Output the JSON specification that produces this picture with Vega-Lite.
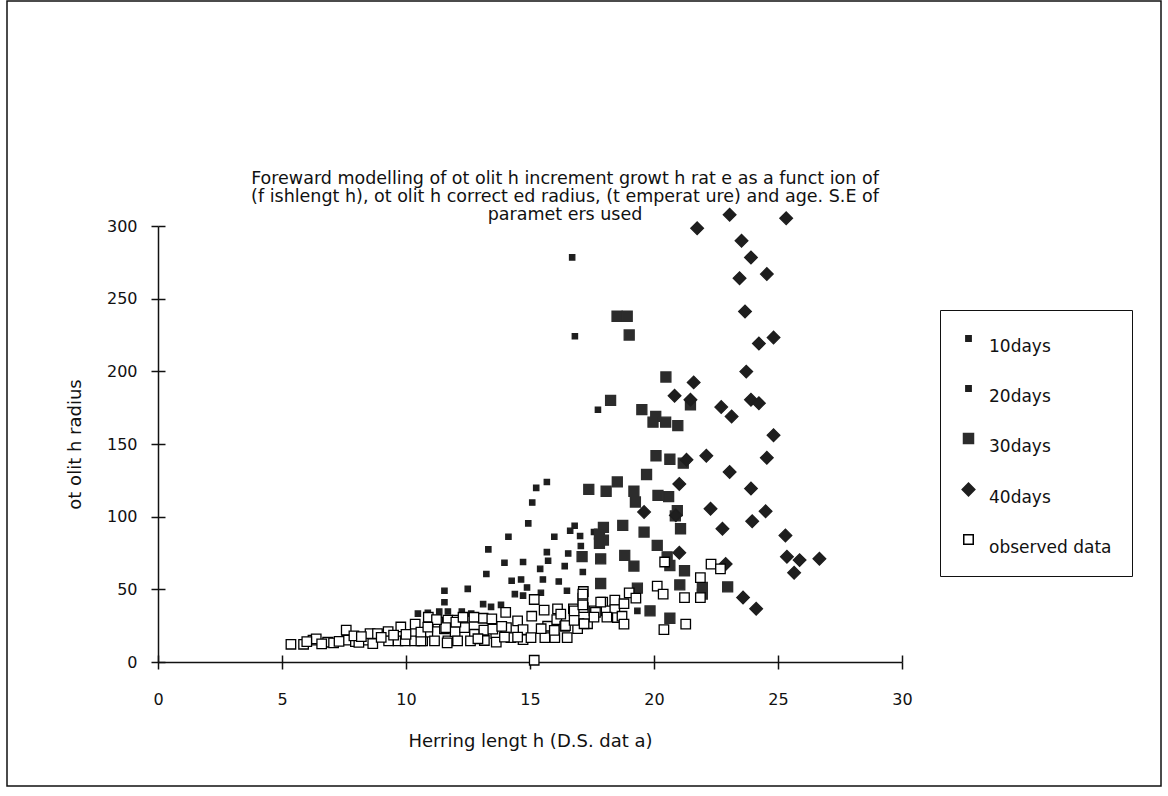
{
  "$schema": "https://vega.github.io/schema/vega-lite/v6.json",
  "autosize": {"type": "none"},
  "width": 1154,
  "height": 785,
  "padding": {"left": 7, "top": 1, "right": 7, "bottom": 10},
  "background": "white",
  "config": {
    "view": {"stroke": "#111", "strokeWidth": 1.5},
    "font": "DejaVu Sans",
    "axis": {"grid": false, "labelFlush": false, "labelOverlap": false, "domainColor": "#111", "tickColor": "#111", "domainWidth": 1.5, "tickWidth": 1.5, "labelColor": "#111", "titleColor": "#111", "labelFont": "DejaVu Sans", "titleFont": "DejaVu Sans", "labelFontSize": 16, "titleFontSize": 18, "titleFontWeight": "normal"},
    "legend": {"labelFont": "DejaVu Sans", "labelFontSize": 17, "labelColor": "#111", "strokeColor": "#111"}
  },
  "title": {
    "text": ["Foreward modelling of ot olit h increment growt h rat e as a funct ion of", "(f ishlengt h), ot olit h correct ed radius, (t emperat ure) and age. S.E of", "paramet ers used"],
    "anchor": "start",
    "frame": "group",
    "align": "center",
    "dx": 558,
    "offset": -222,
    "fontSize": 17.5,
    "lineHeight": 18,
    "fontWeight": "normal",
    "color": "#111",
    "font": "DejaVu Sans"
  },
  "data": {"values": [
    {"s":"10days","x":13.32,"y":77.5},{"s":"10days","x":13.97,"y":68.3},{"s":"10days","x":13.24,"y":60.5},{"s":"10days","x":12.49,"y":50.3},{"s":"10days","x":11.55,"y":49},{"s":"10days","x":11.55,"y":41.1},{"s":"10days","x":13.11,"y":39.8},{"s":"10days","x":13.43,"y":37.9},{"s":"10days","x":13.83,"y":39.3},{"s":"10days","x":11.69,"y":34.7},{"s":"10days","x":12.25,"y":34.7},{"s":"10days","x":12.63,"y":33.3},{"s":"10days","x":10.88,"y":33.8},{"s":"10days","x":10.48,"y":33.3},{"s":"10days","x":11.34,"y":34.7},{"s":"10days","x":14.13,"y":86.2},{"s":"10days","x":14.26,"y":55.9},{"s":"10days","x":14.39,"y":46.7},{"s":"10days","x":14.72,"y":45.7},{"s":"10days","x":14.64,"y":56.8},{"s":"10days","x":14.88,"y":51.3},{"s":"10days","x":15.44,"y":47.6},{"s":"10days","x":16.49,"y":49},{"s":"10days","x":19.33,"y":35.2},
    {"s":"20days","x":16.7,"y":278.4},{"s":"20days","x":16.81,"y":224.1},{"s":"20days","x":17.74,"y":173.6},{"s":"20days","x":15.68,"y":123.9},{"s":"20days","x":15.25,"y":119.8},{"s":"20days","x":15.09,"y":109.7},{"s":"20days","x":14.93,"y":95.4},{"s":"20days","x":15.98,"y":86.2},{"s":"20days","x":16.62,"y":90.3},{"s":"20days","x":17.02,"y":86.7},{"s":"20days","x":16.8,"y":93.8},{"s":"20days","x":17.58,"y":89.4},{"s":"20days","x":15.68,"y":75.6},{"s":"20days","x":16.54,"y":74.7},{"s":"20days","x":15.73,"y":69.7},{"s":"20days","x":17.05,"y":79.8},{"s":"20days","x":14.72,"y":68.8},{"s":"20days","x":15.41,"y":64.1},{"s":"20days","x":16.4,"y":66},{"s":"20days","x":17.13,"y":61.9},{"s":"20days","x":15.52,"y":56.8},{"s":"20days","x":16.16,"y":55.4},
    {"s":"30days","x":18.51,"y":237.9},{"s":"30days","x":18.92,"y":237.9},{"s":"30days","x":19.0,"y":225},{"s":"30days","x":20.48,"y":196.1},{"s":"30days","x":18.25,"y":180},{"s":"30days","x":19.51,"y":173.6},{"s":"30days","x":20.07,"y":169},{"s":"30days","x":19.96,"y":165},{"s":"30days","x":20.47,"y":165},{"s":"30days","x":20.96,"y":162.6},{"s":"30days","x":21.47,"y":177},{"s":"30days","x":20.08,"y":141.9},{"s":"30days","x":20.64,"y":139.5},{"s":"30days","x":21.18,"y":136.8},{"s":"30days","x":19.7,"y":129},{"s":"30days","x":18.52,"y":123.9},{"s":"30days","x":18.07,"y":117.5},{"s":"30days","x":19.19,"y":117.5},{"s":"30days","x":19.25,"y":110.1},{"s":"30days","x":20.16,"y":114.7},{"s":"30days","x":20.59,"y":113.8},{"s":"30days","x":20.94,"y":104.1},{"s":"30days","x":20.86,"y":100.5},{"s":"30days","x":17.96,"y":92.6},{"s":"30days","x":18.74,"y":94},{"s":"30days","x":19.6,"y":89.4},{"s":"30days","x":21.07,"y":91.7},{"s":"30days","x":17.96,"y":83.9},{"s":"30days","x":20.13,"y":80.2},{"s":"30days","x":17.85,"y":71},{"s":"30days","x":18.82,"y":73.3},{"s":"30days","x":19.19,"y":66},{"s":"30days","x":20.53,"y":72.4},{"s":"30days","x":20.64,"y":66.4},{"s":"30days","x":21.23,"y":62.8},{"s":"30days","x":17.85,"y":54},{"s":"30days","x":19.33,"y":50.8},{"s":"30days","x":21.04,"y":53.1},{"s":"30days","x":21.95,"y":51.3},{"s":"30days","x":22.97,"y":51.7},{"s":"30days","x":19.84,"y":35.2},{"s":"30days","x":20.64,"y":30.1},{"s":"30days","x":21.95,"y":46.7},{"s":"30days","x":17.37,"y":118.8},{"s":"30days","x":17.8,"y":88},{"s":"30days","x":17.8,"y":81.7},{"s":"30days","x":17.1,"y":72.5},
    {"s":"40days","x":23.05,"y":307.8},{"s":"40days","x":25.33,"y":305.3},{"s":"40days","x":21.74,"y":298.4},{"s":"40days","x":23.53,"y":289.9},{"s":"40days","x":23.91,"y":278.4},{"s":"40days","x":23.45,"y":264.1},{"s":"40days","x":24.55,"y":266.9},{"s":"40days","x":23.67,"y":241.2},{"s":"40days","x":24.23,"y":219.1},{"s":"40days","x":24.82,"y":223.2},{"s":"40days","x":23.72,"y":199.8},{"s":"40days","x":23.91,"y":180.5},{"s":"40days","x":24.23,"y":178.1},{"s":"40days","x":22.71,"y":175.4},{"s":"40days","x":23.13,"y":169},{"s":"40days","x":24.82,"y":156.1},{"s":"40days","x":22.11,"y":141.9},{"s":"40days","x":24.55,"y":140.5},{"s":"40days","x":23.05,"y":130.8},{"s":"40days","x":23.91,"y":119.3},{"s":"40days","x":22.28,"y":105.5},{"s":"40days","x":22.76,"y":91.7},{"s":"40days","x":23.96,"y":96.8},{"s":"40days","x":24.5,"y":103.7},{"s":"40days","x":25.3,"y":87.1},{"s":"40days","x":25.36,"y":72.4},{"s":"40days","x":25.87,"y":70.1},{"s":"40days","x":26.67,"y":71.0},{"s":"40days","x":25.65,"y":61.4},{"s":"40days","x":22.89,"y":67.4},{"s":"40days","x":23.59,"y":44.3},{"s":"40days","x":24.12,"y":36.6},{"s":"40days","x":21.6,"y":192.4},{"s":"40days","x":20.83,"y":183.2},{"s":"40days","x":21.47,"y":180.5},{"s":"40days","x":21.31,"y":139.1},{"s":"40days","x":21.02,"y":122.5},{"s":"40days","x":19.6,"y":103.2},{"s":"40days","x":20.88,"y":100.9},{"s":"40days","x":21.02,"y":75.2},
    {"s":"observed data","x":5.36,"y":12.2},{"s":"observed data","x":5.87,"y":12.2},{"s":"observed data","x":6.25,"y":15},{"s":"observed data","x":6.38,"y":15.9},{"s":"observed data","x":6.84,"y":13.6},{"s":"observed data","x":7.08,"y":13.1},{"s":"observed data","x":7.59,"y":21.9},{"s":"observed data","x":7.61,"y":15},{"s":"observed data","x":7.96,"y":14},{"s":"observed data","x":8.36,"y":15},{"s":"observed data","x":8.55,"y":19.5},{"s":"observed data","x":8.66,"y":12.6},{"s":"observed data","x":8.85,"y":19.5},{"s":"observed data","x":9.28,"y":20.9},{"s":"observed data","x":9.3,"y":14.5},{"s":"observed data","x":9.68,"y":14.5},{"s":"observed data","x":9.79,"y":24.1},{"s":"observed data","x":9.97,"y":14.5},{"s":"observed data","x":10.35,"y":14.5},{"s":"observed data","x":10.37,"y":26},{"s":"observed data","x":10.67,"y":14.5},{"s":"observed data","x":10.88,"y":20.5},{"s":"observed data","x":11.15,"y":14.5},{"s":"observed data","x":11.28,"y":27.4},{"s":"observed data","x":11.55,"y":22.8},{"s":"observed data","x":11.69,"y":28.8},{"s":"observed data","x":11.69,"y":14.5},{"s":"observed data","x":11.98,"y":20.9},{"s":"observed data","x":12.06,"y":28.8},{"s":"observed data","x":12.08,"y":14.5},{"s":"observed data","x":12.36,"y":23.7},{"s":"observed data","x":10.6,"y":14.5},{"s":"observed data","x":11.66,"y":13.1},{"s":"observed data","x":11.6,"y":23.7},{"s":"observed data","x":12.01,"y":27.4},{"s":"observed data","x":12.76,"y":19.1},{"s":"observed data","x":13.11,"y":30.1},{"s":"observed data","x":13.14,"y":21.9},{"s":"observed data","x":13.46,"y":29.7},{"s":"observed data","x":13.62,"y":19.5},{"s":"observed data","x":14.02,"y":34.2},{"s":"observed data","x":14.05,"y":23.7},{"s":"observed data","x":14.23,"y":16.8},{"s":"observed data","x":14.5,"y":28.3},{"s":"observed data","x":14.72,"y":22.3},{"s":"observed data","x":14.72,"y":15.4},{"s":"observed data","x":15.07,"y":31.5},{"s":"observed data","x":15.17,"y":43},{"s":"observed data","x":15.57,"y":35.7},{"s":"observed data","x":15.71,"y":24.6},{"s":"observed data","x":16.11,"y":36.6},{"s":"observed data","x":16.08,"y":29.2},{"s":"observed data","x":16.4,"y":24.6},{"s":"observed data","x":16.75,"y":36.6},{"s":"observed data","x":16.97,"y":26.4},{"s":"observed data","x":17.15,"y":48.5},{"s":"observed data","x":17.13,"y":43.9},{"s":"observed data","x":17.15,"y":37.4},{"s":"observed data","x":17.58,"y":35.2},{"s":"observed data","x":17.93,"y":41.2},{"s":"observed data","x":18.07,"y":35.2},{"s":"observed data","x":18.42,"y":42.6},{"s":"observed data","x":18.42,"y":36.1},{"s":"observed data","x":18.52,"y":30.6},{"s":"observed data","x":15.17,"y":1.2},{"s":"observed data","x":16.24,"y":32.9},{"s":"observed data","x":16.78,"y":35.2},{"s":"observed data","x":17.13,"y":46.7},{"s":"observed data","x":17.13,"y":39.3},{"s":"observed data","x":17.85,"y":41.2},{"s":"observed data","x":17.64,"y":34.2},{"s":"observed data","x":18.71,"y":31.5},{"s":"observed data","x":18.79,"y":26},{"s":"observed data","x":19.0,"y":47.6},{"s":"observed data","x":19.27,"y":43.9},{"s":"observed data","x":20.13,"y":52.2},{"s":"observed data","x":20.37,"y":46.7},{"s":"observed data","x":20.43,"y":68.8},{"s":"observed data","x":21.23,"y":44.3},{"s":"observed data","x":20.4,"y":22.3},{"s":"observed data","x":21.28,"y":26},{"s":"observed data","x":21.87,"y":58.1},{"s":"observed data","x":21.87,"y":44.3},{"s":"observed data","x":22.3,"y":67.4},{"s":"observed data","x":22.68,"y":64.1},{"s":"observed data","x":16.43,"y":25},{"s":"observed data","x":6.0,"y":14},{"s":"observed data","x":6.6,"y":12.5},{"s":"observed data","x":7.3,"y":14.2},{"s":"observed data","x":8.1,"y":13.5},{"s":"observed data","x":7.9,"y":18},{"s":"observed data","x":8.2,"y":17.5},{"s":"observed data","x":9.0,"y":17},{"s":"observed data","x":9.5,"y":18.5},{"s":"observed data","x":10.0,"y":19},{"s":"observed data","x":15.04,"y":16.8},{"s":"observed data","x":15.6,"y":16.8},{"s":"observed data","x":16.0,"y":16.8},{"s":"observed data","x":16.5,"y":16.8},{"s":"observed data","x":10.9,"y":30.8},{"s":"observed data","x":11.23,"y":29.1},{"s":"observed data","x":13.5,"y":22.6},{"s":"observed data","x":13.86,"y":24.5},{"s":"observed data","x":12.74,"y":30.8},{"s":"observed data","x":12.3,"y":30.8},{"s":"observed data","x":10.6,"y":20.5},{"s":"observed data","x":10.88,"y":24},{"s":"observed data","x":13.16,"y":14.8},{"s":"observed data","x":13.64,"y":13.7},{"s":"observed data","x":13.97,"y":17.1},{"s":"observed data","x":14.5,"y":17.1},{"s":"observed data","x":15.45,"y":22.9},{"s":"observed data","x":15.98,"y":21.7},{"s":"observed data","x":16.92,"y":22.9},{"s":"observed data","x":17.32,"y":26.3},{"s":"observed data","x":17.58,"y":30.9},{"s":"observed data","x":18.1,"y":30.9},{"s":"observed data","x":16.78,"y":28.6},{"s":"observed data","x":17.18,"y":26.3},{"s":"observed data","x":18.79,"y":40.1},{"s":"observed data","x":12.6,"y":14.5},{"s":"observed data","x":12.9,"y":16}
  ]},
  "layer": [
    {
      "mark": {"type": "point", "opacity": 1, "strokeWidth": 1.3},
      "encoding": {
        "x": {"field": "x", "type": "quantitative", "scale": {"domain": [0, 30], "range": [151, 895], "nice": false},
          "axis": {"orient": "bottom", "offset": -124, "values": [0, 5, 10, 15, 20, 25, 30], "tickSize": 7, "labelPadding": 22, "title": "Herring lengt h (D.S. dat a)", "titlePadding": 25}},
        "y": {"field": "y", "type": "quantitative", "scale": {"domain": [0, 300], "range": [661, 225], "nice": false},
          "axis": {"orient": "left", "offset": -151, "values": [0, 50, 100, 150, 200, 250, 300], "tickSize": 7, "labelPadding": 14, "title": "ot olit h radius", "titlePadding": 22}},
        "shape": {"field": "s", "type": "nominal", "scale": {"domain": ["10days", "20days", "30days", "40days", "observed data"], "range": ["square", "square", "square", "diamond", "square"]},
          "legend": {"title": null, "orient": "none", "legendX": 933, "legendY": 309, "padding": 20, "rowPadding": 25, "labelOffset": 12, "labelBaseline": "top", "fillColor": "white"}},
        "fill": {"field": "s", "type": "nominal", "scale": {"domain": ["10days", "20days", "30days", "40days", "observed data"], "range": ["#1e1e1e", "#1e1e1e", "#2c2c2c", "#1e1e1e", "#ffffff"]}, "legend": {"title": null}},
        "stroke": {"field": "s", "type": "nominal", "scale": {"domain": ["10days", "20days", "30days", "40days", "observed data"], "range": ["#1e1e1e", "#1e1e1e", "#2c2c2c", "#1e1e1e", "#000000"]}, "legend": {"title": null}},
        "size": {"field": "s", "type": "nominal", "scale": {"type": "ordinal", "domain": ["10days", "20days", "30days", "40days", "observed data"], "range": [28, 28, 100, 160, 90]}, "legend": {"title": null}}
      }
    },
    {
      "mark": {"type": "point", "opacity": 0},
      "encoding": {
        "x": {"field": "x", "type": "quantitative", "scale": {"domain": [0, 30], "range": [151, 895], "nice": false},
          "axis": {"orient": "bottom", "offset": -131, "values": [0, 5, 10, 15, 20, 25, 30], "tickSize": 7, "domain": false, "labels": false, "title": null}},
        "y": {"field": "y", "type": "quantitative", "scale": {"domain": [0, 300], "range": [661, 225], "nice": false},
          "axis": {"orient": "left", "offset": -158, "values": [0, 50, 100, 150, 200, 250, 300], "tickSize": 7, "domain": false, "labels": false, "title": null}}
      }
    }
  ],
  "resolve": {"axis": {"x": "independent", "y": "independent"}}
}
